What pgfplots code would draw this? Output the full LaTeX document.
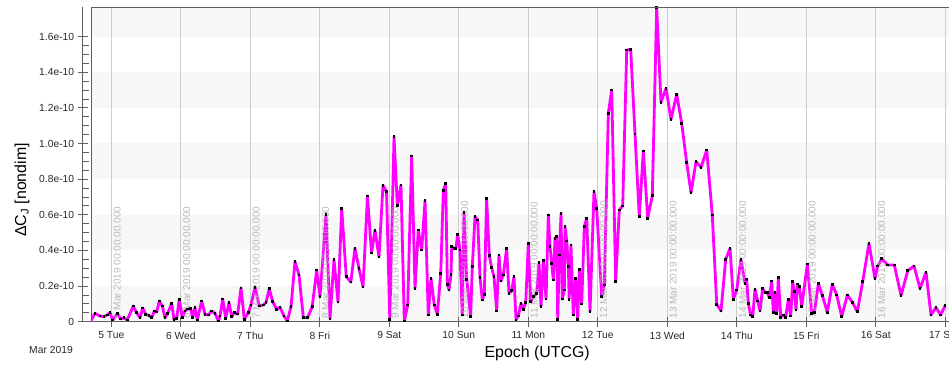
\documentclass[border=0pt]{standalone}
\usepackage{fontspec}
\setmainfont{Liberation Sans}
\usepackage{pgfplots}
\pgfplotsset{compat=1.18}
\definecolor{band}{RGB}{247,247,247}
\definecolor{gridc}{RGB}{205,205,205}
\definecolor{axc}{RGB}{95,95,95}
\definecolor{lbl}{RGB}{174,174,174}
\definecolor{tickc}{RGB}{40,40,40}
\definecolor{curve}{RGB}{255,0,255}

\begin{document}
\begin{tikzpicture}[x=1pt,y=1pt]
\useasboundingbox (-91,-43.3) rectangle (858,321.7);
% alternating background bands (0-0.2, 0.4-0.6, 0.8-1.0, 1.2-1.4, 1.6-top), 178.23 pt per 1e-10
\fill[band] (0,0) rectangle (858,35.65);
\fill[band] (0,71.29) rectangle (858,106.94);
\fill[band] (0,142.58) rectangle (858,178.23);
\fill[band] (0,213.88) rectangle (858,249.52);
\fill[band] (0,285.17) rectangle (858,314.4);
\begin{axis}[
  scale only axis, width=858pt, height=314.4pt,
  at={(0,0)}, anchor=south west,
  xmin=4.708, xmax=17.053, ymin=0, ymax=1.764,
  axis lines*=left, axis y line shift=8.3pt,
  axis line style={axc, line width=0.9pt},
  xtick={5,6,7,8,9,10,11,12,13,14,15,16,17},
  xticklabels={5 Tue,6 Wed,7 Thu,8 Fri,9 Sat,10 Sun,11 Mon,12 Tue,13 Wed,14 Thu,15 Fri,16 Sat,17 Sun},
  ytick={0,0.2,0.4,0.6,0.8,1.0,1.2,1.4,1.6},
  yticklabels={0,0.2e-10,0.4e-10,0.6e-10,0.8e-10,1.0e-10,1.2e-10,1.4e-10,1.6e-10},
  minor y tick num=3,
  tick align=center, major tick length=10pt, minor tick length=6pt,
  tick style={axc, line width=0.8pt},
  minor y tick style={xshift=3pt},
  xmajorgrids=true, major grid style={gridc, line width=0.9pt},
  ticklabel style={font=\fontsize{10.3}{12}\selectfont, text=tickc},
  xticklabel style={yshift=-1.5pt},
  xlabel={Epoch (UTCG)},
  ylabel={ΔC\textsubscript{J} [nondim]},
  xlabel style={at={(axis description cs:0.52,-0.0995)}, anchor=center, font=\fontsize{15.9}{18}\selectfont},
  ylabel style={at={(axis description cs:-0.0805,0.419)}, anchor=center, font=\fontsize{15.9}{18}\selectfont},
  clip=true,
]
\addplot[curve, line width=2.8pt, line join=round, mark=square*, mark size=0.8pt, mark options={black, fill=black, line width=0pt}] coordinates {
(4.704,0.004)(4.765,0.047)(4.837,0.032)(4.895,0.028)(4.942,0.038)(4.981,0.05)(5.020,0.01)(5.086,0.045)(5.135,0.015)(5.183,0.022)(5.230,0.01)(5.317,0.088)(5.365,0.05)(5.413,0.022)(5.452,0.077)(5.495,0.04)(5.542,0.036)(5.581,0.022)(5.619,0.06)(5.653,0.054)(5.691,0.116)(5.734,0.088)(5.773,0.022)(5.812,0.047)(5.869,0.103)(5.902,0.013)(5.941,0.019)(5.978,0.126)(6.022,0.025)(6.060,0.06)(6.099,0.071)(6.142,0.073)(6.171,0.022)(6.204,0.079)(6.237,0.01)(6.301,0.116)(6.348,0.042)(6.396,0.038)(6.445,0.06)(6.492,0.047)(6.540,0.004)(6.564,0.032)(6.603,0.127)(6.646,0.019)(6.694,0.107)(6.732,0.028)(6.770,0.05)(6.819,0.043)(6.866,0.19)(6.914,0.013)(6.971,0.05)(7.010,0.094)(7.068,0.193)(7.129,0.088)(7.187,0.094)(7.226,0.107)(7.273,0.185)(7.322,0.112)(7.380,0.07)(7.427,0.081)(7.485,0.032)(7.532,0.004)(7.586,0.084)(7.643,0.337)(7.701,0.262)(7.763,0.022)(7.823,0.022)(7.891,0.084)(7.955,0.29)(8.003,0.14)(8.089,0.6)(8.147,0.015)(8.204,0.348)(8.262,0.11)(8.315,0.636)(8.381,0.252)(8.446,0.222)(8.506,0.412)(8.564,0.298)(8.622,0.195)(8.686,0.706)(8.744,0.386)(8.794,0.512)(8.852,0.363)(8.909,0.765)(8.960,0.73)(9.007,0.012)(9.068,1.038)(9.115,0.651)(9.168,0.767)(9.216,0.004)(9.265,0.094)(9.322,0.93)(9.370,0.187)(9.417,0.514)(9.466,0.402)(9.514,0.679)(9.561,0.038)(9.600,0.243)(9.647,0.094)(9.691,0.042)(9.740,0.271)(9.777,0.735)(9.812,0.776)(9.835,0.21)(9.859,0.178)(9.888,0.266)(9.898,0.421)(9.930,0.412)(9.959,0.412)(9.984,0.49)(10.016,0.402)(10.050,0.038)(10.075,0.614)(10.114,0.238)(10.170,0.028)(10.194,0.309)(10.233,0.589)(10.272,0.571)(10.305,0.249)(10.338,0.122)(10.367,0.154)(10.400,0.692)(10.439,0.37)(10.473,0.303)(10.506,0.252)(10.545,0.06)(10.578,0.374)(10.606,0.228)(10.640,0.262)(10.688,0.412)(10.722,0.159)(10.760,0.174)(10.794,0.252)(10.823,0.01)(10.856,0.032)(10.895,0.103)(10.928,0.07)(10.963,0.107)(11.000,0.44)(11.035,0.112)(11.072,0.14)(11.121,0.159)(11.154,0.331)(11.183,0.084)(11.216,0.342)(11.255,0.127)(11.288,0.599)(11.312,0.421)(11.337,0.328)(11.360,0.234)(11.384,0.468)(11.409,0.477)(11.423,0.013)(11.446,0.374)(11.471,0.608)(11.489,0.127)(11.518,0.178)(11.528,0.533)(11.553,0.453)(11.576,0.309)(11.588,0.126)(11.614,0.43)(11.647,0.038)(11.682,0.243)(11.711,0.013)(11.734,0.294)(11.768,0.099)(11.806,0.533)(11.840,0.58)(11.888,0.056)(11.945,0.729)(11.984,0.636)(12.056,0.14)(12.094,0.206)(12.151,1.169)(12.200,1.30)(12.257,0.224)(12.309,0.627)(12.358,0.649)(12.416,1.524)(12.473,1.528)(12.535,1.053)(12.597,0.589)(12.655,0.958)(12.718,0.58)(12.784,0.707)(12.847,1.764)(12.909,1.231)(12.981,1.309)(13.053,1.135)(13.135,1.276)(13.207,1.113)(13.279,0.892)(13.341,0.724)(13.413,0.898)(13.485,0.866)(13.567,0.963)(13.647,0.599)(13.711,0.098)(13.773,0.06)(13.840,0.35)(13.902,0.412)(13.950,0.126)(13.999,0.178)(14.059,0.35)(14.118,0.215)(14.142,0.238)(14.165,0.103)(14.200,0.038)(14.229,0.028)(14.262,0.182)(14.301,0.116)(14.334,0.06)(14.371,0.187)(14.406,0.163)(14.439,0.163)(14.468,0.135)(14.502,0.228)(14.525,0.05)(14.550,0.163)(14.574,0.047)(14.597,0.247)(14.632,0.025)(14.669,0.038)(14.704,0.025)(14.741,0.126)(14.775,0.032)(14.804,0.224)(14.827,0.168)(14.852,0.066)(14.871,0.211)(14.899,0.196)(14.934,0.084)(15.014,0.323)(15.078,0.047)(15.115,0.05)(15.173,0.213)(15.230,0.148)(15.302,0.053)(15.374,0.21)(15.437,0.15)(15.509,0.028)(15.590,0.15)(15.662,0.109)(15.734,0.056)(15.811,0.224)(15.902,0.44)(15.988,0.241)(16.027,0.312)(16.085,0.353)(16.171,0.318)(16.266,0.318)(16.363,0.146)(16.459,0.286)(16.550,0.312)(16.636,0.187)(16.722,0.277)(16.794,0.038)(16.865,0.079)(16.934,0.038)(16.996,0.09)
};
\pgfplotsinvokeforeach{5,6,7,8,9,10,11,12,13,14,15,16}{
  \node[rotate=90, anchor=north west, inner sep=0pt, text=lbl, text opacity=0.86, font=\fontsize{10}{12}\selectfont] at (axis cs:#1.03,0.017) {#1 Mar 2019 00:00:00.000};
}
\end{axis}
\draw[axc, line width=0.9pt] (0,314.4) -- (858,314.4);
\draw[axc, line width=0.9pt] (0,0) -- (0,314.4);
\draw[axc, line width=0.9pt] (-8.3,0) -- (0,0);
\node[font=\fontsize{10.3}{12}\selectfont, text=tickc, anchor=center] at (-40,-27.8) {Mar 2019};
\end{tikzpicture}
\end{document}
